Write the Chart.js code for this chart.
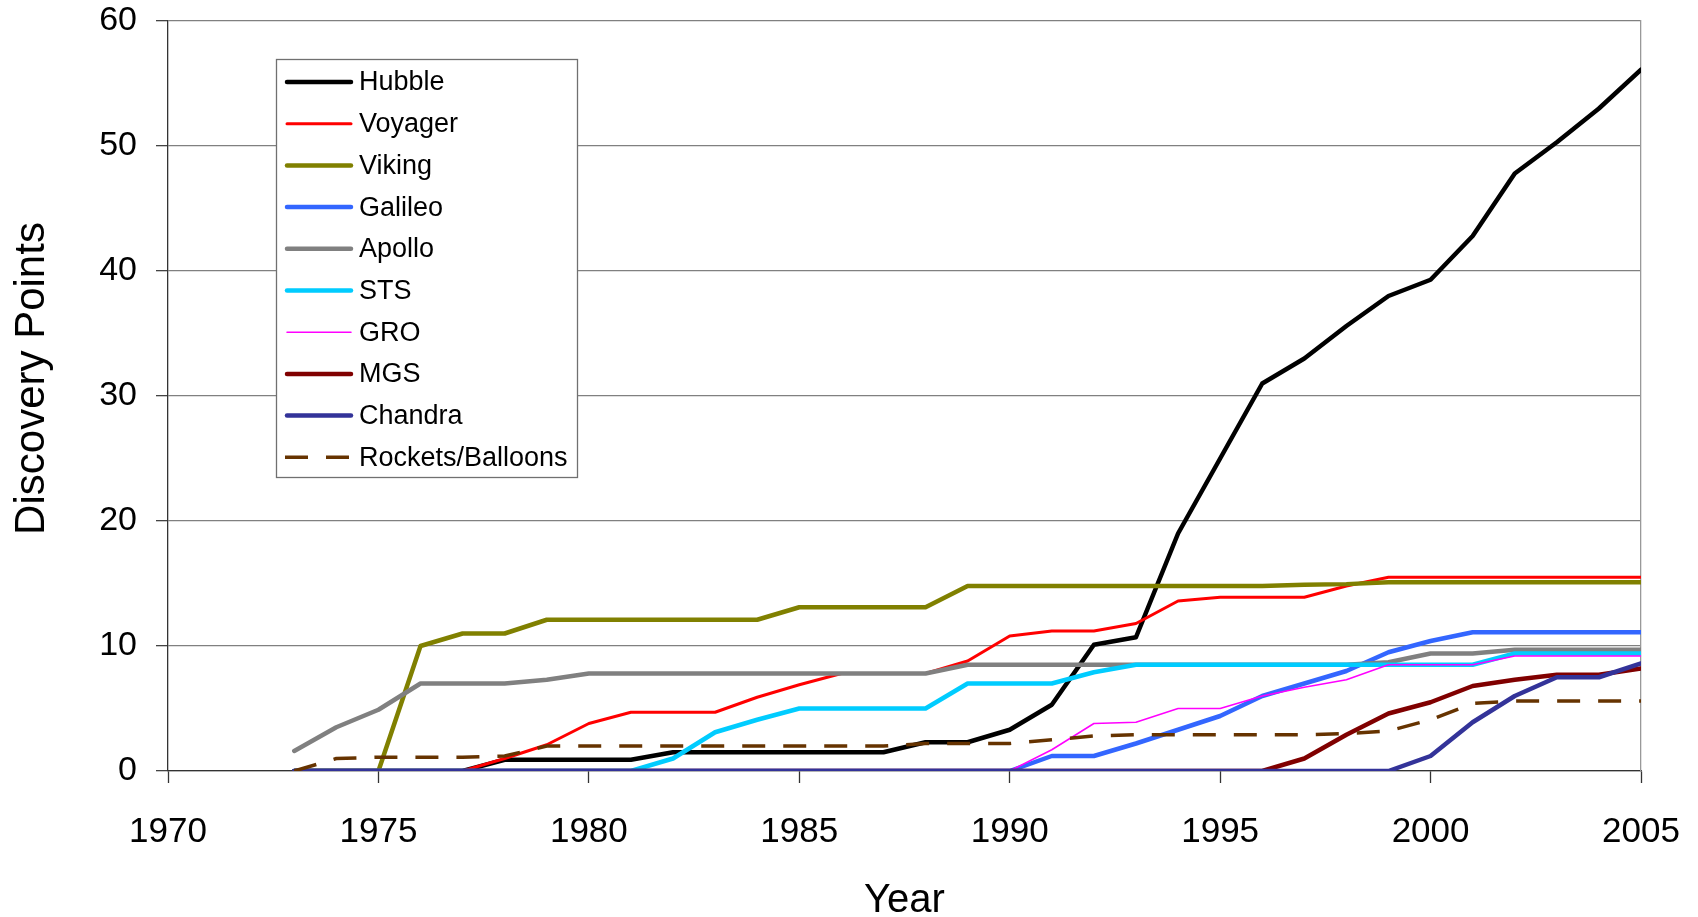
<!DOCTYPE html>
<html><head><meta charset="utf-8">
<script src="https://cdn.jsdelivr.net/npm/chart.js@4.4.1/dist/chart.umd.min.js"></script>
<style>html,body{margin:0;padding:0;background:#fff;overflow:hidden}#wrap{width:1698px;height:917px}</style>
</head><body><div id="wrap"><canvas id="c" width="1698" height="917"></canvas></div>
<script>
const years = [1973,1974,1975,1976,1977,1978,1979,1980,1981,1982,1983,1984,1985,1986,1987,1988,1989,1990,1991,1992,1993,1994,1995,1996,1997,1998,1999,2000,2001,2002,2003,2004,2005];

const hubble   = [0,0,0,0,0,0.9,0.9,0.9,0.9,1.5,1.5,1.5,1.5,1.5,1.5,2.3,2.3,3.3,5.3,10.1,10.7,19.0,25.0,31.0,33.0,35.6,38.0,39.3,42.8,47.8,50.3,53.0,56.1];
const voyager  = [0,0,0,0,0,1.0,2.1,3.8,4.7,4.7,4.7,5.9,6.9,7.8,7.8,7.8,8.8,10.8,11.2,11.2,11.8,13.6,13.9,13.9,13.9,14.8,15.5,15.5,15.5,15.5,15.5,15.5,15.5];
const viking   = [0,0,0,10.0,11.0,11.0,12.1,12.1,12.1,12.1,12.1,12.1,13.1,13.1,13.1,13.1,14.8,14.8,14.8,14.8,14.8,14.8,14.8,14.8,14.9,14.95,15.1,15.1,15.1,15.1,15.1,15.1,15.1];
const galileo  = [0,0,0,0,0,0,0,0,0,0,0,0,0,0,0,0,0,0,1.2,1.2,2.2,3.3,4.4,6.0,7.0,8.0,9.5,10.4,11.1,11.1,11.1,11.1,11.1];
const apollo   = [1.6,3.5,4.9,7.0,7.0,7.0,7.3,7.8,7.8,7.8,7.8,7.8,7.8,7.8,7.8,7.8,8.5,8.5,8.5,8.5,8.5,8.5,8.5,8.5,8.5,8.5,8.7,9.4,9.4,9.7,9.7,9.7,9.7];
const sts      = [0,0,0,0,0,0,0,0,0,1.0,3.1,4.1,5.0,5.0,5.0,5.0,7.0,7.0,7.0,7.9,8.5,8.5,8.5,8.5,8.5,8.5,8.5,8.5,8.5,9.4,9.4,9.4,9.4];
const gro      = [0,0,0,0,0,0,0,0,0,0,0,0,0,0,0,0,0,0,1.7,3.8,3.9,5.0,5.0,6.0,6.7,7.3,8.5,8.5,8.5,9.2,9.2,9.2,9.2];
const mgs      = [0,0,0,0,0,0,0,0,0,0,0,0,0,0,0,0,0,0,0,0,0,0,0,0,1.0,2.9,4.6,5.5,6.8,7.3,7.7,7.7,8.2];
const chandra  = [0,0,0,0,0,0,0,0,0,0,0,0,0,0,0,0,0,0,0,0,0,0,0,0,0,0,0,1.2,3.9,6.0,7.5,7.5,8.6];
const rockets  = [0,1.0,1.1,1.1,1.1,1.2,2.0,2.0,2.0,2.0,2.0,2.0,2.0,2.0,2.0,2.2,2.2,2.2,2.5,2.8,2.9,2.9,2.9,2.9,2.9,3.0,3.2,4.1,5.4,5.6,5.6,5.6,5.6];

const seriesNames = ['Hubble','Voyager','Viking','Galileo','Apollo','STS','GRO','MGS','Chandra','Rockets/Balloons'];
const seriesValues = [hubble, voyager, viking, galileo, apollo, sts, gro, mgs, chandra, rockets];
const seriesColors = ['#000000','#FF0000','#808000','#3366FF','#808080','#00CCFF','#FF00FF','#800000','#333399','#663300'];
const seriesWidths = [4.5,3,4.5,4.5,4.5,4.5,1.5,4.5,4.5,3.5];

const FONT = '"Liberation Sans", Arial, sans-serif';

const datasets = seriesNames.map((name, i) => ({
  label: name,
  data: years.map((yr, j) => ({x: yr, y: seriesValues[i][j]})),
  borderColor: seriesColors[i],
  backgroundColor: seriesColors[i],
  borderWidth: seriesWidths[i],
  borderDash: name === 'Rockets/Balloons' ? [23, 18] : undefined,
  borderJoinStyle: 'round',
  borderCapStyle: name === 'Rockets/Balloons' ? 'butt' : 'round',
  pointRadius: 0,
  tension: 0,
  fill: false,
  order: seriesNames.length - i
}));

const boxLegend = {
  id: 'boxLegend',
  afterDraw(chart) {
    const ctx = chart.ctx;
    const L = 276, T = 59, W = 301, H = 418;
    ctx.save();
    ctx.fillStyle = '#ffffff';
    ctx.fillRect(L, T, W, H);
    ctx.strokeStyle = '#707070';
    ctx.lineWidth = 1.3;
    ctx.strokeRect(L + 0.5, T + 0.5, W, H);
    ctx.font = '27px ' + FONT;
    ctx.textBaseline = 'middle';
    ctx.textAlign = 'left';
    chart.data.datasets.forEach((ds, i) => {
      const y = 82 + i * 41.7;
      ctx.beginPath();
      ctx.strokeStyle = ds.borderColor;
      ctx.lineWidth = ds.borderWidth;
      ctx.setLineDash(ds.borderDash || []);
      ctx.lineCap = ds.borderDash ? 'butt' : 'round';
      ctx.moveTo(ds.borderDash ? 285 : 287, y);
      ctx.lineTo(ds.borderDash ? 353 : 351, y);
      ctx.stroke();
      ctx.setLineDash([]);
      ctx.fillStyle = '#000';
      ctx.fillText(ds.label, 359, y + 1);
    });
    ctx.restore();
  }
};

function zeroPad(s) { s.paddingTop = 0; s.paddingBottom = 0; s.paddingLeft = 0; s.paddingRight = 0; }

new Chart(document.getElementById('c'), {
  type: 'line',
  data: { datasets },
  plugins: [boxLegend],
  options: {
    responsive: false,
    devicePixelRatio: 1,
    animation: false,
    layout: { padding: { left: 0, right: 57, top: 21, bottom: 0 } },
    plugins: { legend: { display: false }, tooltip: { enabled: false } },
    scales: {
      x: {
        type: 'linear', min: 1970, max: 2005,
        afterFit(s) { s.height = 146; zeroPad(s); },
        ticks: { stepSize: 5, color: '#000', padding: 28, font: { family: FONT, size: 35 }, callback: v => String(v), maxRotation: 0 },
        grid: { drawOnChartArea: false, drawTicks: true, tickLength: 12, tickColor: '#333', tickWidth: 1.3 },
        border: { color: '#333', width: 1.3 },
        title: { display: true, text: 'Year', color: '#000', font: { family: FONT, size: 40, lineHeight: 0.78 }, padding: { top: 0, bottom: 0 } }
      },
      y: {
        type: 'linear', min: 0, max: 60, position: 'left',
        afterFit(s) { s.width = 168; zeroPad(s); },
        ticks: { stepSize: 10, color: '#000', padding: 19, font: { family: FONT, size: 34 } },
        grid: { color: '#808080', lineWidth: 1.3, drawTicks: true, tickLength: 12, tickColor: '#444', tickWidth: 1.3 },
        border: { color: '#333', width: 1.3 },
        title: { display: true, text: '   Discovery Points', color: '#000', font: { family: FONT, size: 42, lineHeight: 1 }, padding: { top: 11, bottom: 0 } }
      },
      yR: {
        type: 'linear', min: 0, max: 60, position: 'right',
        afterFit(s) { s.width = 0; zeroPad(s); },
        ticks: { display: false },
        grid: { drawOnChartArea: false, drawTicks: false },
        border: { color: '#999', width: 1.3 }
      }
    }
  }
});
</script>
</body></html>
